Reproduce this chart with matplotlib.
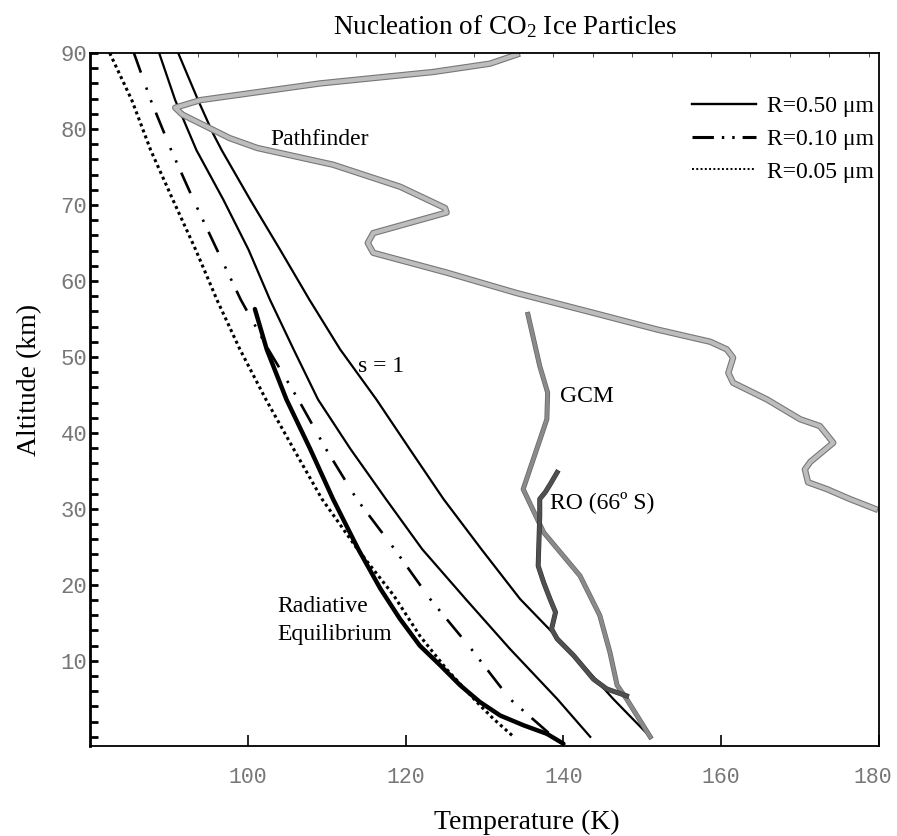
import numpy as np
import matplotlib
matplotlib.use("Agg")
import matplotlib.pyplot as plt
import matplotlib.patheffects as pe
import matplotlib.transforms as mtransforms
from matplotlib.lines import Line2D
from matplotlib.ticker import MultipleLocator, FixedLocator

plt.rcParams["mathtext.fontset"] = "custom"
plt.rcParams["mathtext.rm"] = "Liberation Serif"
plt.rcParams["mathtext.it"] = "Liberation Serif:italic"

# saturation s = 1 curve
alt_s1 = [90.2, 83.8, 79.4, 77.2, 70.7, 64.1, 57.55, 51.0, 44.4, 37.9, 31.3,
          24.7, 18.15, 11.6, 5.0, 0]
t_s1 = [91.1, 93.7, 95.6, 96.7, 100.3, 104.1, 107.8, 111.7, 116.3, 120.5, 124.8,
        129.6, 134.5, 140.6, 146.3, 151.0]

# nucleation curves for three particle radii
alt_nuc = [90.2, 83.8, 77.2, 70.7, 64.1, 57.55, 51.0, 44.4, 37.9, 31.3, 24.7,
           18.15, 11.6, 5.0, 0]
t_r050 = [88.7, 90.8, 93.5, 96.9, 100.1, 102.8, 105.8, 108.9, 113.0, 117.5,
          122.1, 127.6, 133.2, 139.2, 143.4]
t_r010 = [85.5, 87.7, 90.3, 93.1, 96.1, 99.1, 102.6, 106.4, 109.9, 113.8,
          118.6, 123.1, 128.3, 133.2, 138.7]
alt_r005 = [90.0, 83.8, 77.2, 70.7, 64.1, 57.5, 51.0, 44.4, 37.9, 31.3, 24.7,
            18.6, 13.3, 8.9, 4.6, 2.4, 0]
t_r005 = [82.5, 85.3, 87.7, 90.5, 93.4, 96.1, 99.0, 102.3, 105.8, 109.4, 113.9,
          118.5, 121.8, 125.2, 129.0, 131.1, 133.7]

# radiative equilibrium profile
alt_rad = [56.3, 51.0, 44.4, 37.9, 31.3, 24.7, 19.5, 15.5, 12.0, 9.4, 6.8,
           4.6, 2.8, 1.5, 0.4, -0.9]
t_rad = [100.9, 102.4, 104.9, 107.9, 110.8, 114.0, 116.8, 119.3, 121.8, 124.4,
         126.9, 129.4, 132.0, 135.0, 137.9, 140.0]

# Mars Pathfinder entry profile
t_pf = [134.1, 130.7, 123.5, 109.2, 94.0, 90.8, 91.7, 97.7, 101.2, 110.8, 119.3,
        125.0, 125.2, 115.9, 115.2, 115.9, 125.2, 134.1, 143.8, 151.9, 158.6,
        160.7, 161.5, 160.9, 161.5, 165.8, 170.0, 172.5, 174.2, 171.3, 170.6,
        171.0, 173.4, 176.3, 179.5]
alt_pf = [89.8, 88.6, 87.5, 86.0, 83.8, 82.8, 81.9, 78.8, 77.5, 75.3, 72.4,
          69.6, 69.0, 66.3, 65.0, 63.7, 61.1, 58.4, 55.8, 53.6, 52.0,
          51.0, 49.9, 47.9, 46.6, 44.4, 41.8, 40.9, 38.7, 36.2, 35.2,
          33.5, 32.6, 31.3, 30.0]

# GCM profile
t_gcm = [135.5, 137.0, 138.0, 137.9, 134.9, 137.5, 142.1, 144.6, 145.9, 146.8,
         148.0, 151.0]
alt_gcm = [55.6, 48.8, 45.3, 41.8, 32.6, 26.9, 21.2, 16.0, 11.1, 6.8, 5.0, 0.0]

# radio occultation, 66 S
t_ro = [139.2, 138.3, 137.7, 137.0, 137.0, 136.8, 137.5, 138.3, 139.0, 138.5,
        139.2, 141.3, 143.8, 145.5, 148.0]
alt_ro = [34.8, 33.2, 32.2, 31.3, 29.1, 22.5, 20.3, 18.15, 16.4, 14.2,
          12.9, 10.7, 7.6, 6.3, 5.4]

legend_labels = ["R=0.50 \u03bcm", "R=0.10 \u03bcm", "R=0.05 \u03bcm"]

serif = ["Liberation Serif", "DejaVu Serif"]
mono = ["Liberation Mono", "DejaVu Sans Mono"]

fig = plt.figure(figsize=(8.97, 8.36), dpi=100)
ax = fig.add_axes([0.1003, 0.1077, 0.8797, 0.8289])

dashdot = (0, (8.5, 6, 0.9, 4.2, 0.9, 4.2))
dotted = (0, (1, 1.1))
ax.plot(t_s1, alt_s1, color="black", lw=1.6)
ax.plot(t_r050, alt_nuc, color="black", lw=1.6)
ax.plot(t_r010, alt_nuc, color="black", lw=1.9, linestyle=dashdot)
ax.plot(t_r005, alt_r005, color="black", lw=2.2, linestyle=dotted)
ax.plot(t_rad, alt_rad, color="black", lw=3.2, solid_capstyle="round")

ax.plot(t_pf, alt_pf, color="#bdbdbd", lw=3,
        path_effects=[pe.Stroke(linewidth=4.6, foreground="#777777"), pe.Normal()])
ax.plot(t_gcm, alt_gcm, color="#8a8a8a", lw=2.6,
        path_effects=[pe.Stroke(linewidth=3.6, foreground="#666666"), pe.Normal()])
ax.plot(t_ro, alt_ro, color="#505050", lw=2.8,
        path_effects=[pe.Stroke(linewidth=3.6, foreground="#333333"), pe.Normal()])

tkw = dict(fontsize=17, family=serif, va="center")
ax.text(102.8, 78.6, "Pathfinder", **tkw)
ax.text(114.0, 48.8, "s = 1", **tkw)
ax.text(139.6, 44.8, "GCM", **tkw)
ax.text(138.3, 30.9, "RO (66\u00ba S)", **tkw)
ax.text(103.7, 17.2, "Radiative", **tkw)
ax.text(103.7, 13.5, "Equilibrium", **tkw)

# legend keys: the printed key uses a tighter dash pattern than the curves
handles = [
    Line2D([], [], color="black", lw=1.7),
    Line2D([], [], color="black", lw=2.2, linestyle=(0, (7, 2.6, 0.8, 2.6, 0.8, 2.6))),
    Line2D([], [], color="black", lw=1.4, linestyle=(0, (1, 1.2))),
]
leg = ax.legend(handles, legend_labels, loc="upper right",
                bbox_to_anchor=(1.0, 0.945), frameon=False, handlelength=2.7,
                handletextpad=0.5, labelspacing=0.47, borderaxespad=0,
                borderpad=0.2, prop={"family": serif, "size": 17})

ax.set_xlim(80, 180)
ax.set_ylim(-1.2, 90)
ax.xaxis.set_major_locator(FixedLocator([100, 120, 140, 160, 180]))
ax.xaxis.set_minor_locator(FixedLocator(np.arange(93.7, 180, 5)))
ax.yaxis.set_major_locator(FixedLocator([10, 20, 30, 40, 50, 60, 70, 80, 90]))
ax.yaxis.set_minor_locator(MultipleLocator(2))
ax.tick_params(axis="x", which="major", direction="in", length=8, width=1.2,
               pad=15, labelsize=15.5, labelcolor="#777777")
ax.tick_params(axis="x", which="minor", direction="in", bottom=False, top=True,
               length=3, width=0.7, color="#555555")
ax.tick_params(axis="y", which="both", direction="in", length=6, width=2,
               pad=2, labelsize=16, labelcolor="#777777")
for lab in ax.get_xticklabels() + ax.get_yticklabels():
    lab.set_family(mono)
for s in ax.spines.values():
    s.set_linewidth(1.3)
ax.spines["left"].set_linewidth(2)

# the last x label sits a little inside the frame corner
last = ax.get_xticklabels()[-1]
last.set_transform(last.get_transform() +
                   mtransforms.ScaledTranslation(-6 / 100, 0, fig.dpi_scale_trans))

fig.text(0.563, 0.9677, "Nucleation of CO$_2$ Ice Particles", ha="center",
         va="center", fontsize=19.5, family=serif)
fig.text(0.5875, 0.0167, "Temperature (K)", ha="center", va="center",
         fontsize=20, family=serif)
fig.text(0.033, 0.545, "Altitude (km)", ha="center", va="center",
         fontsize=20, family=serif, rotation=90)

fig.savefig("out.png", dpi=100)
